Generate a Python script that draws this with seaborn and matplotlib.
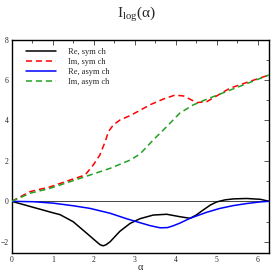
import numpy as np
import pandas as pd
import matplotlib
matplotlib.use("Agg")
import matplotlib.pyplot as plt
import seaborn as sns
from matplotlib.ticker import MultipleLocator

# --- data ---
re_sym_x = [0.0, 0.53, 1.01, 1.18, 1.50, 1.83, 2.07, 2.16, 2.23, 2.30, 2.40, 2.64, 2.89, 3.13, 3.45, 3.78, 4.10, 4.35, 4.50, 4.67, 4.85, 5.00, 5.20, 5.41, 5.73, 6.06, 6.283]
re_sym_y = [0.0, -0.30, -0.57, -0.66, -1.01, -1.58, -2.00, -2.15, -2.20, -2.15, -2.00, -1.48, -1.09, -0.86, -0.68, -0.64, -0.76, -0.84, -0.68, -0.43, -0.18, -0.03, 0.07, 0.12, 0.14, 0.10, 0.0]

im_sym_x = [0.0, 0.45, 0.93, 1.42, 1.79, 1.99, 2.15, 2.28, 2.36, 2.48, 2.64, 2.89, 3.13, 3.37, 3.69, 3.98, 4.19, 4.35, 4.51, 4.76, 5.32, 5.81, 6.283]
im_sym_y = [0.0, 0.48, 0.71, 1.05, 1.30, 1.80, 2.29, 2.95, 3.45, 3.78, 4.02, 4.24, 4.50, 4.77, 5.05, 5.25, 5.21, 5.05, 4.88, 4.93, 5.59, 5.93, 6.25]

re_asym_x = [0.0, 0.53, 1.01, 1.50, 1.91, 2.40, 2.80, 3.05, 3.37, 3.62, 3.80, 3.94, 4.10, 4.35, 4.76, 5.08, 5.41, 5.73, 6.06, 6.283]
re_asym_y = [0.0, -0.02, -0.09, -0.22, -0.35, -0.59, -0.86, -1.01, -1.20, -1.31, -1.30, -1.21, -1.08, -0.84, -0.54, -0.35, -0.21, -0.11, -0.03, 0.0]

im_asym_x = [0.0, 0.45, 0.93, 1.42, 1.91, 2.40, 2.89, 3.13, 3.45, 3.78, 4.10, 4.43, 4.76, 5.24, 5.81, 6.283]
im_asym_y = [0.0, 0.40, 0.64, 0.97, 1.30, 1.63, 2.04, 2.34, 3.03, 3.69, 4.36, 4.77, 5.05, 5.43, 5.88, 6.25]

labels = ["Re, sym ch", "Im, sym ch", "Re, asym ch", "Im, asym ch"]
xticks = [0, 1, 2, 3, 4, 5, 6]
yticks = [-2, 0, 2, 4, 6, 8]

sns.set_style("white")
plt.rcParams['font.family'] = ['Liberation Serif', 'DejaVu Serif']
plt.rcParams['mathtext.fontset'] = 'custom'
plt.rcParams['mathtext.rm'] = 'Liberation Serif'
plt.rcParams['mathtext.it'] = 'Liberation Serif:italic'

fig = plt.figure(figsize=(2.73, 2.73), dpi=100)
ax = fig.add_axes([0.0429, 0.0722, 0.9435, 0.783])

series = [
    (re_sym_x, re_sym_y, labels[0], 'black', '-'),
    (im_sym_x, im_sym_y, labels[1], '#ff0000', (0, (4, 2.5))),
    (re_asym_x, re_asym_y, labels[2], '#0000ff', '-'),
    (im_asym_x, im_asym_y, labels[3], '#22a022', (0, (4, 2.5))),
]
ax.axhline(0, color='#444444', lw=0.7, zorder=1)
for xs, ys, lab, col, ls in series:
    df = pd.DataFrame({'x': xs, 'y': ys})
    sns.lineplot(data=df, x='x', y='y', ax=ax, color=col, linestyle=ls,
                 lw=1.1, label=lab, sort=False, zorder=3)

ax.set_xlim(0, 2 * np.pi)
ax.set_ylim(-2.57, 8)
ax.set_xticks(xticks)
ax.set_yticks(yticks)
ax.xaxis.set_minor_locator(MultipleLocator(0.5))
ax.yaxis.set_minor_locator(MultipleLocator(1))
ax.tick_params(which='both', direction='in', top=True, right=True,
               labelsize=5.5, pad=2, width=0.7, color='#555555')
ax.tick_params(which='major', length=3.5)
ax.tick_params(which='minor', length=2)
for s in ax.spines.values():
    s.set_linewidth(1.0)
    s.set_color('black')
ax.set_xlabel('α', fontsize=7.5, labelpad=-1)
ax.set_ylabel('')
fig.text(0.5, 1 - 14 / 273, r'I$_{\rm log}$(α)', ha='center', va='center', fontsize=11)

leg = ax.legend(loc='upper left', bbox_to_anchor=(26 / 273, 1 - 47.5 / 273),
                bbox_transform=fig.transFigure, frameon=False, fontsize=6,
                handlelength=3.6, handletextpad=1.45, labelspacing=0.25,
                borderpad=0, borderaxespad=0)

fig.savefig('out.png', dpi=100)
